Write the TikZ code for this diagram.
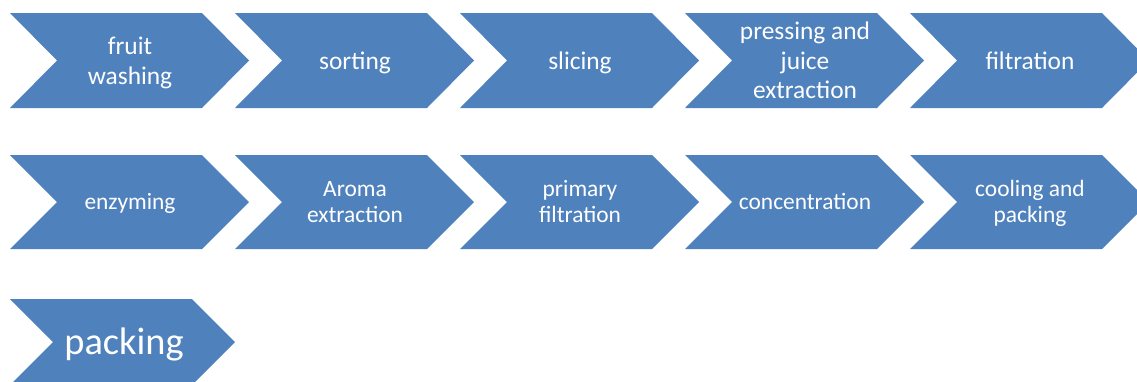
\documentclass[tikz,border=0pt]{standalone}
\usepackage{fontspec}
\setmainfont{Carlito}
\definecolor{chevblue}{HTML}{4F81BD}
\tikzset{
  chevfill/.style={fill=chevblue},
  lbl/.style={text=white, align=center, inner sep=0pt},
  rowA/.style={lbl, font=\fontsize{25.5}{29.5}\selectfont},
  rowB/.style={lbl, font=\fontsize{23.5}{26}\selectfont},
  rowC/.style={lbl, font=\fontsize{38.5}{44}\selectfont}
}
% #1 left x, #2 top y, #3 total width, #4 height, #5 point depth
\newcommand{\chevpath}[5]{%
  \fill[chevfill] (#1,#2) -- ++(#3-#5,0) -- ++(#5,#4/2) -- ++(-#5,#4/2)
    -- ++(-#3+#5,0) -- ++(#5,-#4/2) -- cycle;}
\begin{document}
\begin{tikzpicture}[x=1bp,y=-1bp]
\useasboundingbox (0,0) rectangle (1137,381);
\clip (0,0) rectangle (1137,381);
% row 1
\foreach \i in {0,...,4}{\chevpath{10+225*\i}{13}{239}{95}{47}}
\node[rowA] (a1) at (130,63.5) {\strut fruit\\\strut washing};
\node[rowA] (a2) at (355,63.5) {\strut sorting};
\node[rowA] (a3) at (580,63.5) {\strut slicing};
\node[rowA] (a4) at (805,63.5) {\strut pressing and\\\strut juice\\\strut extraction};
\node[rowA] (a5) at (1030,63.5) {\strut filtration};
% row 2
\foreach \i in {0,...,4}{\chevpath{10+225*\i}{155}{239}{94}{47}}
\node[rowB] (b1) at (130,204.5) {\strut enzyming};
\node[rowB] (b2) at (355,204.5) {\strut Aroma\\\strut extraction};
\node[rowB] (b3) at (580,204.5) {\strut primary\\\strut filtration};
\node[rowB] (b4) at (805,204.5) {\strut concentration};
\node[rowB] (b5) at (1030,204.5) {\strut cooling and\\\strut packing};
% row 3
\chevpath{10}{299}{225}{86}{43}
\node[rowC] (c1) at (124,346) {\strut packing};
\end{tikzpicture}
\end{document}
